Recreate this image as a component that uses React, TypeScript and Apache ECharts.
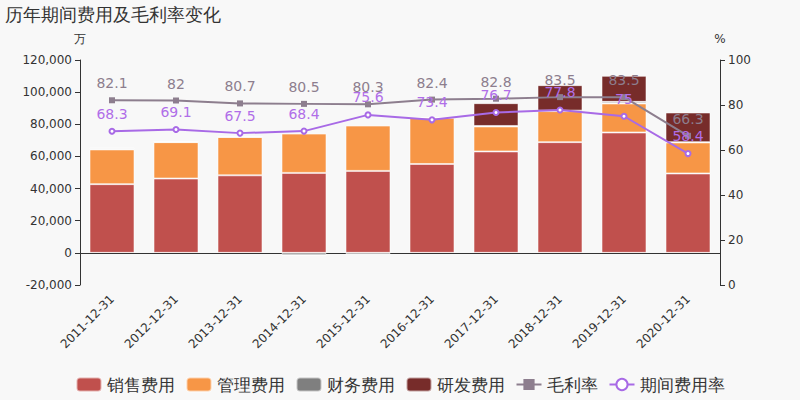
import React, { useEffect, useRef } from "react";
import * as echarts from "echarts";

const categories = [
  "2011-12-31", "2012-12-31", "2013-12-31", "2014-12-31", "2015-12-31",
  "2016-12-31", "2017-12-31", "2018-12-31", "2019-12-31", "2020-12-31",
];
const salesExpense = [42750, 46250, 48250, 49750, 51000, 55300, 63100, 68900, 74900, 49400];
const adminExpense = [21600, 22650, 23850, 24450, 28200, 28700, 15550, 19300, 18050, 19300];
const financeExpense = [800, 200, 100, -1500, -1100, 200, 300, 300, 1000, 200];
const rdExpense = [0, 0, 0, 0, 0, 0, 14200, 15850, 16200, 18450];
const grossMargin = [82.1, 82, 80.7, 80.5, 80.3, 82.4, 82.8, 83.5, 83.5, 66.3];
const expenseRate = [68.3, 69.1, 67.5, 68.4, 75.6, 73.4, 76.7, 77.8, 75, 58.4];

const barNames = ["销售费用", "管理费用", "财务费用", "研发费用"];
const barColors = ["#c0504d", "#f79646", "#7f7f7f", "#772c2a"];
const barData = [salesExpense, adminExpense, financeExpense, rdExpense];

export default function App() {
  const ref = useRef<HTMLDivElement>(null);
  useEffect(() => {
    if (!ref.current) return;
    const chart = echarts.init(ref.current, null, { renderer: "svg" });
    const bars = barNames.map((name, i) => ({
      name,
      type: "bar",
      stack: "cost",
      barWidth: 45,
      data: barData[i],
      itemStyle: {
        color: barColors[i],
        borderColor: "rgba(255,255,255,0.55)",
        borderWidth: 1,
      },
    }));
    chart.setOption({
      animation: false,
      backgroundColor: "#f8f8f8",
      textStyle: { fontFamily: "DejaVu Sans, sans-serif" },
      title: {
        text: "历年期间费用及毛利率变化",
        left: 0,
        top: 0,
        textStyle: { fontSize: 18, fontWeight: "normal", color: "#333" },
      },
      legend: {
        bottom: 2,
        left: "center",
        itemWidth: 25,
        itemHeight: 14,
        itemGap: 11,
        textStyle: { fontSize: 17, color: "#333" },
        data: [...barNames, "毛利率", "期间费用率"],
      },
      grid: { left: 80, right: 80, top: 60, bottom: 115 },
      xAxis: {
        type: "category",
        data: categories,
        axisLine: { onZero: true, lineStyle: { color: "#333" } },
        axisTick: { lineStyle: { color: "#333" } },
        axisLabel: { rotate: 45, margin: 12, fontSize: 12, color: "#333" },
      },
      yAxis: [
        {
          type: "value",
          name: "万",
          min: -20000,
          max: 120000,
          interval: 20000,
          nameTextStyle: { color: "#333", fontSize: 12, align: "center" },
          axisLine: { show: true, lineStyle: { color: "#333" } },
          axisTick: { show: true },
          axisLabel: { color: "#333", fontSize: 12 },
          splitLine: { show: false },
        },
        {
          type: "value",
          name: "%",
          min: 0,
          max: 100,
          interval: 20,
          nameTextStyle: { color: "#333", fontSize: 12, align: "center" },
          axisLine: { show: true, lineStyle: { color: "#333" } },
          axisTick: { show: true },
          axisLabel: { color: "#333", fontSize: 12 },
          splitLine: { show: false },
        },
      ],
      series: [
        ...bars,
        {
          name: "毛利率",
          type: "line",
          yAxisIndex: 1,
          data: grossMargin,
          symbol: "rect",
          symbolSize: 6,
          itemStyle: { color: "#8d7e8e" },
          lineStyle: { color: "#8d7e8e", width: 2 },
          label: { show: true, position: "top", distance: 7, fontSize: 14, color: "#8d7e8e" },
        },
        {
          name: "期间费用率",
          type: "line",
          yAxisIndex: 1,
          data: expenseRate,
          symbol: "emptyCircle",
          symbolSize: 5,
          itemStyle: { color: "#a86ae6" },
          lineStyle: { color: "#a86ae6", width: 2 },
          label: { show: true, position: "top", distance: 7, fontSize: 14, color: "#b06ee8" },
        },
      ],
    });
    return () => chart.dispose();
  }, []);
  return (
    <div
      ref={ref}
      style={{ position: "fixed", left: 0, top: 0, width: 800, height: 400 }}
    />
  );
}
